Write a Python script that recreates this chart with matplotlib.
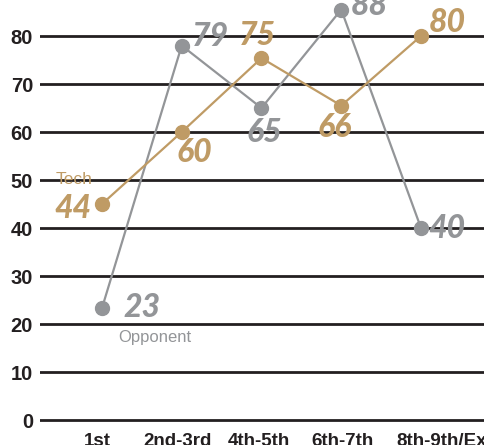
import matplotlib.pyplot as plt

categories = ["1st", "2nd-3rd", "4th-5th", "6th-7th", "8th-9th/Ex"]
tech_labels = [44, 60, 75, 66, 80]
opp_labels = [23, 79, 65, 88, 40]
# where the dots sit in the picture (not exactly at the printed value)
tech_pos = [45, 60, 75.4, 65.5, 80]
opp_pos = [23.3, 78, 65, 85.5, 40]
yticks = [0, 10, 20, 30, 40, 50, 60, 70, 80]

TECH = "#bf9b65"
OPP = "#939598"
INK = "#231f20"

fig = plt.figure(figsize=(4.84, 4.45), dpi=100)
ax = fig.add_axes([40 / 484, 20.2 / 445, 444 / 484, 424.8 / 445])

x = list(range(len(categories)))

for v in yticks:
    ax.axhline(v, color=INK, lw=2, zorder=1)

ax.plot(x, opp_pos, color=OPP, lw=1.6, marker="o", ms=10, zorder=3, clip_on=False)
ax.plot(x, tech_pos, color=TECH, lw=1.6, marker="o", ms=10, zorder=4, clip_on=False)

ax.set_xlim(-0.777, 4.79)
ax.set_ylim(-1, 87.5)
ax.set_yticks(yticks)
ax.set_yticklabels([str(v) for v in yticks])
# category labels sit a little off the dots, the last one runs off the edge
ax.set_xticks([-0.063, 0.953, 1.969, 3.01, 4.26])
ax.set_xticklabels(categories)
ax.tick_params(length=0)
ax.tick_params(axis="y", pad=5)
ax.tick_params(axis="x", pad=6)
for lab in ax.get_yticklabels():
    lab.set_fontfamily("Liberation Sans")
    lab.set_fontweight("bold")
    lab.set_fontsize(14.5)
    lab.set_color(INK)
for lab in ax.get_xticklabels():
    lab.set_fontfamily("Liberation Sans")
    lab.set_fontweight("bold")
    lab.set_fontsize(13.5)
    lab.set_color(INK)
    lab.set_va("top")
for s in ax.spines.values():
    s.set_visible(False)

# value labels, offsets in pixels from each dot
tech_off = [(-29, -4), (13, -20), (-4, 23), (-7, -22), (26, 13)]
opp_off = [(40, 1), (29, 9), (3, -24), (28, 4), (26, -1)]


def put(xi, yi, txt, off, color):
    ax.annotate(txt, (xi, yi), xytext=off, textcoords="offset pixels",
                ha="center", va="center", color=color, fontsize=23,
                fontfamily="Lato", fontweight="black", fontstyle="italic",
                zorder=5, annotation_clip=False)


for i in x:
    put(i, tech_pos[i], str(tech_labels[i]), tech_off[i], TECH)
    put(i, opp_pos[i], str(opp_labels[i]), opp_off[i], OPP)

ax.annotate("Tech", (0, tech_pos[0]), xytext=(-28, 24), textcoords="offset pixels",
            ha="center", va="center", color=TECH, fontsize=12.5,
            fontfamily="Liberation Sans")
ax.annotate("Opponent", (0, opp_pos[0]), xytext=(53, -29), textcoords="offset pixels",
            ha="center", va="center", color=OPP, fontsize=12,
            fontfamily="Liberation Sans")

fig.savefig("out.png", dpi=100)
